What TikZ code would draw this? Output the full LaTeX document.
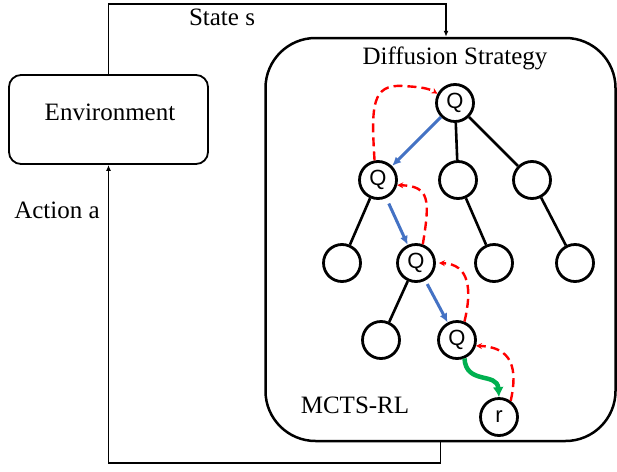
\documentclass[tikz,border=0pt]{standalone}
\usepackage{fontspec}
\setmainfont{Liberation Serif}
\newfontfamily\qfont{Liberation Sans}
\usetikzlibrary{arrows.meta}
\definecolor{myblue}{HTML}{4472C4}
\definecolor{mygreen}{HTML}{00B050}
\definecolor{myred}{HTML}{FF0000}
\begin{document}
\begin{tikzpicture}[x=1pt,y=-1pt,
  lbl/.style={font=\fontsize{25}{30}\selectfont,inner sep=0pt,anchor=base},
  envbox/.style={draw,line width=1.8pt,rounded corners=12pt,minimum width=199pt,minimum height=89pt,inner sep=0pt},
  bigbox/.style={draw,line width=2.5pt,rounded corners=50pt,minimum width=350pt,minimum height=403pt,inner sep=0pt},
  tn/.style={circle,draw,line width=2.8pt,minimum size=37pt,inner sep=0pt,font=\qfont\fontsize{22}{26}\selectfont},
  edge/.style={line width=2.6pt},
  conn/.style={line width=1.8pt,-{Latex[length=6pt,width=5pt]}},
  sel/.style={myblue,line width=3pt,-{Latex[length=9pt,width=8pt]}},
  back/.style={myred,line width=2.4pt,dash pattern=on 9pt off 5pt,-{Stealth[length=6pt,width=6pt,inset=2pt]}},
  sim/.style={mygreen,line width=4.5pt,-{Latex[length=10pt,width=11pt]}}
]
\useasboundingbox (0,0) rectangle (617,471);

% boxes
\node[envbox] (env) at (108.5,119.5) {};
\node[lbl] (envlabel) at (110,120) {Environment};
\node[bigbox] (box) at (440.5,239.5) {};

% labels
\node[lbl] (statelabel) at (222,25) {State s};
\node[lbl] (actionlabel) at (57,218) {Action a};
\node[lbl] (difflabel) at (455,64) {Diffusion Strategy};
\node[lbl] (mctslabel) at (355,413) {MCTS-RL};

% outer connectors
\coordinate (top) at (446,4);
\coordinate (bot) at (0,463);
\draw[conn] (env.north) |- (top) -- (top |- box.north);
\draw[conn] (box.south) -- (box.south |- bot) -| (env.south);

% tree nodes
\node[tn] (root) at (455,103) {Q};
\node[tn] (q2) at (378,180) {Q};
\node[tn] (c2) at (458,180) {};
\node[tn] (c3) at (532,180) {};
\node[tn] (l3a) at (342,263) {};
\node[tn] (q3) at (416,263) {Q};
\node[tn] (l3c) at (494,263) {};
\node[tn] (l3d) at (575,263) {};
\node[tn] (l4a) at (381,340) {};
\node[tn] (q4) at (457,340) {Q};
\node[tn] (rr) at (499,417) {r};

% tree edges
\draw[edge] (root) -- (c2);
\draw[edge] (root) -- (c3);
\draw[edge] (q2) -- (l3a);
\draw[edge] (c2) -- (l3c);
\draw[edge] (c3) -- (l3d);
\draw[edge] (q3) -- (l4a);

% selection (blue)
\draw[sel] (root) -- (q2);
\draw[sel,shorten <=6pt] (q2) -- (q3);
\draw[sel,shorten <=4pt] (q3) -- (q4);

% simulation (green)
\draw[sim] (q4.-68) .. controls (466,385) and (497,372) .. (rr.north);

% backpropagation (red)
\draw[back] (rr.54) .. controls (518,368) and (512,347) .. (q4.-17);
\draw[back] (q4.68) .. controls (472,290) and (470,264) .. ([xshift=3pt]q3.east);
\draw[back] (q3.70) .. controls (430,200) and (430,186) .. (q2.-15);
\draw[back] (q2.100) .. controls (371,105) and (372,84) .. (403,86) .. controls (420,87) and (428,88) .. (root.152);
\end{tikzpicture}
\end{document}
